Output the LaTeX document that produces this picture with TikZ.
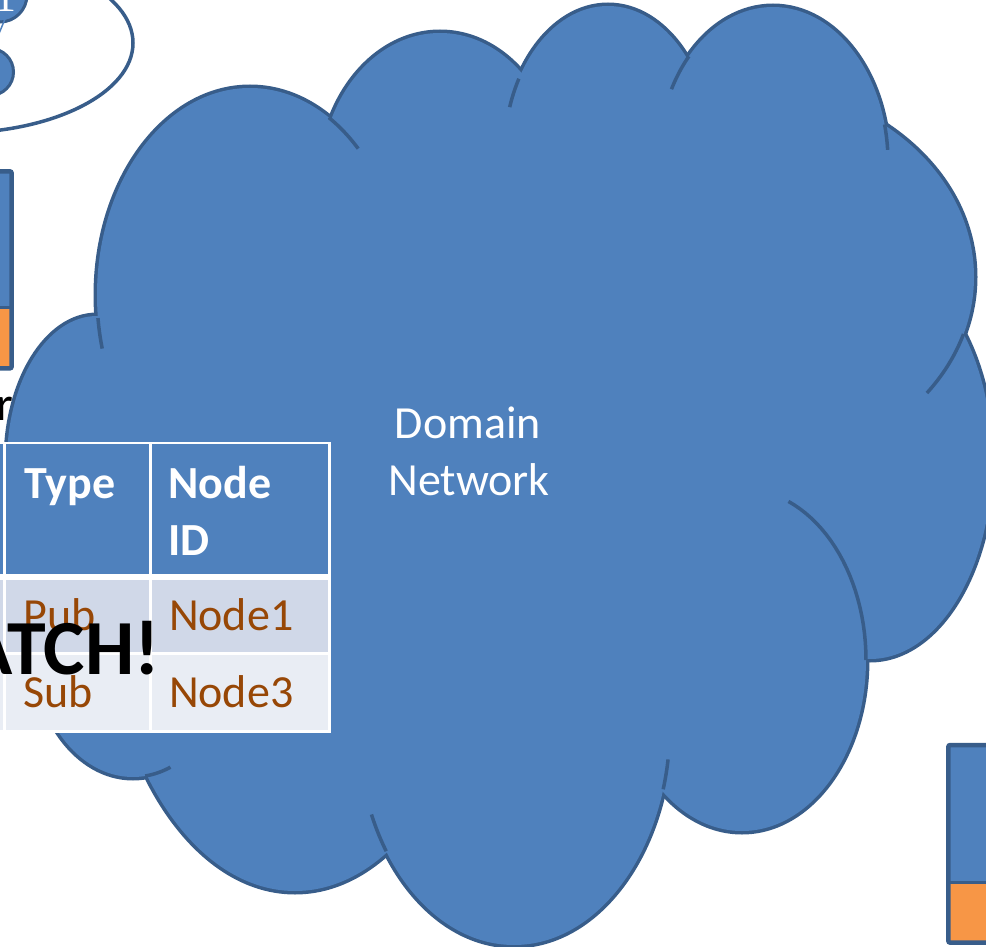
\documentclass[tikz,border=0pt]{standalone}
\usepackage{fontspec}
\setmainfont{Carlito}
\newfontfamily\numfont{Liberation Serif}
\definecolor{cloudfill}{HTML}{4F81BD}
\definecolor{cloudline}{HTML}{385D8A}
\definecolor{boxorange}{HTML}{F79646}
\definecolor{rowone}{HTML}{D0D8E8}
\definecolor{rowtwo}{HTML}{E9EDF4}
\definecolor{celltext}{HTML}{974706}
\newcommand\extarc[6]{\draw[cloudext] plot[domain=#5:#6, samples=24] ({#1+#3*cos(\x)},{#2+#4*sin(\x)});}
\begin{document}
\begin{tikzpicture}[x=1pt,y=-1pt,
  cloudedge/.style={draw=cloudline, line width=7pt},
  cloudext/.style={draw=cloudline, line width=3.5pt},
  bubble/.style={circle, inner sep=0pt, fill=cloudfill, draw=cloudline, line width=3pt},
  txt/.style={inner sep=0pt, outer sep=0pt, font=\fontsize{46}{57}\selectfont},
  hdrtxt/.style={txt, text=white, font=\fontsize{46}{57}\selectfont\bfseries},
  celltxt/.style={txt, text=celltext},
  boxline/.style={draw=cloudline, line width=4.5pt, rounded corners=2pt},
  gridline/.style={draw=white, line width=3pt}
]
\useasboundingbox (0,0) rectangle (986,947);
\clip (0,0) rectangle (986,947);

% top-left group ellipse and bubbles
\draw[draw=cloudline, line width=3.5pt] (-45,43) ellipse [x radius=178pt, y radius=90pt];
\node[bubble, minimum size=54pt] (c1) at (0,-5) {};
\node[bubble, minimum size=47pt] (c2) at (-10,72) {};
\node[inner sep=0pt, anchor=base, text=white, font=\numfont\fontsize{44}{44}\selectfont] (c1label) at (5.5,12) {1};
\coordinate (lk1) at (5,19);
\coordinate (lk2) at (-7,48);
\draw[draw=cloudfill, line width=1.5pt] (lk1) -- (lk2);

% cloud
\def\bumps{133/642/100/135, 295/581/190/310, 514/725/156/220, 742/660/124/171, 870/461/122/198, 734/277/240/195, 773/162/115/155, 608/156/104/150, 440/183/120/150, 250/295/153/207, 97/462/90/146}
\foreach \cx/\cy/\rx/\ry in \bumps {\draw[cloudedge] (\cx,\cy) ellipse [x radius=\rx pt, y radius=\ry pt];}
\foreach \cx/\cy/\rx/\ry in \bumps {\fill[cloudfill] (\cx,\cy) ellipse [x radius=\rx pt, y radius=\ry pt];}
\fill[cloudfill] (133,642) -- (295,581) -- (514,725) -- (742,660) -- (870,461) -- (734,277) -- (773,162) -- (608,156) -- (440,183) -- (250,295) -- (97,462) -- cycle;
\extarc{133}{642}{100}{135}{83}{68}
\extarc{514}{725}{156}{220}{145}{156}
\extarc{514}{725}{156}{220}{17}{9}
\extarc{742}{660}{124}{171}{0}{-68}
\extarc{734}{277}{240}{195}{17}{36.5}
\extarc{773}{162}{115}{155}{-14}{-4.5}
\extarc{773}{162}{115}{155}{-137}{-152}
\extarc{608}{156}{104}{150}{-149}{-161}
\extarc{250}{295}{153}{207}{-59}{-45}
\extarc{250}{295}{153}{207}{173.6}{165}

\node[txt, text=white, anchor=base] (dom1) at (468,438) {Domain};
\node[txt, text=white, anchor=base] (dom2) at (469,495) {Network};

% left box
\fill[cloudfill] (-10,171) rectangle (12,307);
\fill[boxorange] (-10,307) rectangle (12,368);
\draw[draw=cloudline, line width=3pt] (-10,307) -- (12,307);
\draw[boxline] (-10,171.3) rectangle (11.7,368.4);

% right box
\fill[cloudfill] (948,745) rectangle (1000,882);
\fill[boxorange] (948,882) rectangle (1000,943);
\draw[draw=cloudline, line width=3pt] (948,882) -- (1000,882);
\draw[boxline] (948.3,745) rectangle (1000,942.7);

% partial label
\node[txt, anchor=base east, font=\fontsize{48}{57}\selectfont] (rlabel) at (13,420) {r};

% table
\fill[cloudfill] (-10,443) rectangle (330,576);
\fill[rowone] (-10,576) rectangle (330,654);
\fill[rowtwo] (-10,654) rectangle (330,732);
\draw[gridline, line width=2.5pt] (-10,443) -- (331,443);
\draw[gridline, line width=6pt] (-10,576.5) -- (331,576.5);
\draw[gridline] (-10,653.5) -- (331,653.5);
\draw[gridline, line width=2.5pt] (-10,731.5) -- (331,731.5);
\draw[gridline] (4,442) -- (4,733);
\draw[gridline] (150.5,442) -- (150.5,733);
\draw[gridline] (329.5,442) -- (329.5,733);

\node[hdrtxt, anchor=base west] (htype) at (24.5,498) {Type};
\node[hdrtxt, anchor=base west] (hnode) at (168.5,498) {Node};
\node[hdrtxt, anchor=base west] (hid) at (168.5,555) {ID};
\node[celltxt, anchor=base west] (pub) at (23.5,630) {Pub};
\node[celltxt, anchor=base west] (n1) at (169,630) {Node1};
\node[celltxt, anchor=base west] (sub) at (23.5,707) {Sub};
\node[celltxt, anchor=base west] (n3) at (169,707) {Node3};

\node[inner sep=0pt, anchor=base east, font=\fontsize{78}{78}\selectfont\bfseries] (match) at (160,674) {ATCH!};
\end{tikzpicture}
\end{document}
